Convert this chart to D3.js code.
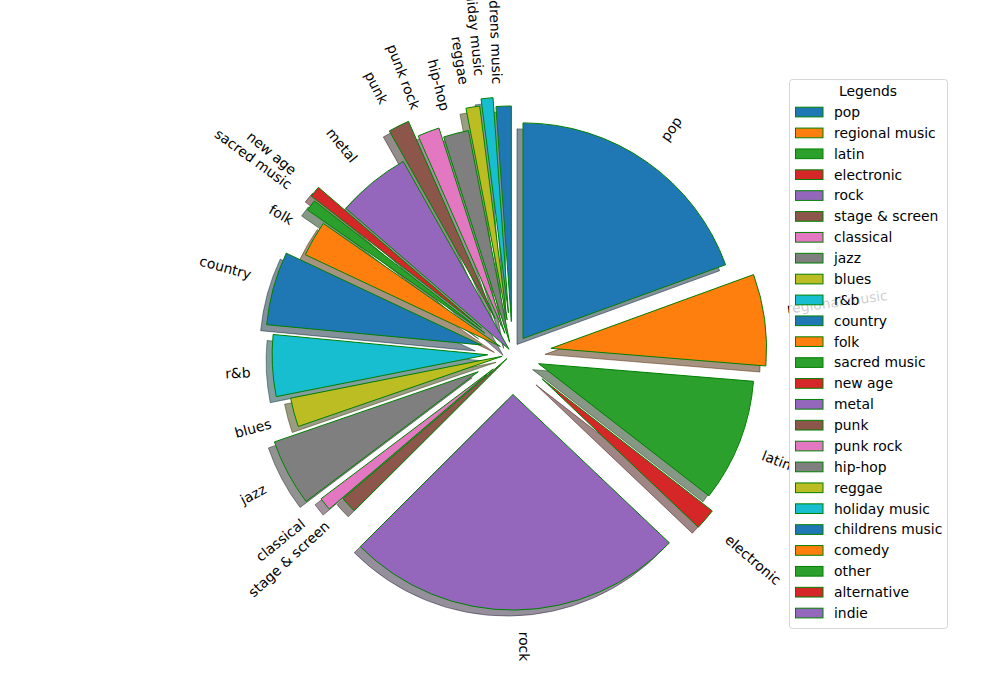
<!DOCTYPE html>
<html lang="en">
<head>
    <meta charset="UTF-8">
    <title>Genres pie</title>
    <script src="https://d3js.org/d3.v7.min.js"></script>
    <style>
        body { margin: 0; background: #fff; }
        text { font-family: "DejaVu Sans", sans-serif; font-size: 13.89px; fill: #000; }
    </style>
</head>
<body>
    <div id="chart"></div>

    <script>
        // Data (slice sizes)
        const genres = ["pop", "regional music", "latin", "electronic", "rock", "stage & screen",
            "classical", "jazz", "blues", "r&b", "country", "folk", "sacred music", "new age",
            "metal", "punk", "punk rock", "hip-hop", "reggae", "holiday music", "childrens music",
            "comedy", "other", "alternative", "indie"];
        const counts = [700, 247, 331, 57, 916, 44, 35, 180, 78, 166, 198, 96, 30, 30,
            198, 57, 59, 68, 37, 32, 41, 0, 0, 0, 0];
        // how far each slice is pulled out, as a fraction of the radius
        const explode = [0.085, 0.18, 0.13, 0.18, 0.19, 0.035, 0.115, 0.18, 0.05, 0.115, 0.15,
            0.065, 0.16, 0.185, 0.025, 0.18, 0.1, 0.054, 0.158, 0.19, 0.148, 0, 0, 0, 0];

        const width = 1000, height = 700;
        const cx = 512.5, cy = 353.5, R = 215.6;
        const colors = d3.schemeCategory10;

        const svg = d3.select("#chart")
            .append("svg")
            .attr("width", width)
            .attr("height", height);

        const rows = genres.map((g, i) => ({genre: g, value: counts[i], explode: explode[i], color: colors[i % 10]}));

        const pie = d3.pie().sort(null).value(d => d.value);
        const arc = d3.arc().innerRadius(0).outerRadius(R);
        const arcs = pie(rows).filter(d => d.data.value > 0);

        const g = svg.append("g").attr("transform", `translate(${cx},${cy})`);

        // offset of the exploded centre
        const shift = d => {
            const m = (d.startAngle + d.endAngle) / 2;
            const e = d.data.explode * R;
            return [e * Math.sin(m), -e * Math.cos(m)];
        };

        // Shadows under everything
        g.selectAll(".shadow")
            .data(arcs)
            .join("path")
            .attr("class", "shadow")
            .attr("transform", d => { const [x, y] = shift(d); return `translate(${x - 6},${y + 6})`; })
            .attr("d", arc)
            .each(function(d) {
                const c = d3.rgb(d.data.color);
                const s = d3.rgb(c.r * 0.3, c.g * 0.3, c.b * 0.3).formatHex();
                d3.select(this).attr("fill", s).attr("fill-opacity", 0.5)
                    .attr("stroke", s).attr("stroke-opacity", 0.5).attr("stroke-width", 1);
            });

        // Wedges
        g.selectAll(".wedge")
            .data(arcs)
            .join("path")
            .attr("class", "wedge")
            .attr("transform", d => { const [x, y] = shift(d); return `translate(${x},${y})`; })
            .attr("d", arc)
            .attr("fill", d => d.data.color)
            .attr("stroke", "green")
            .attr("stroke-width", 1);

        // Rotated labels: the rotated box is aligned to the anchor point
        const boxH = 13.7;
        g.selectAll(".lbl")
            .data(arcs)
            .join("text")
            .attr("class", "lbl")
            .attr("text-anchor", "middle")
            .attr("dy", "0.263em")
            .text(d => d.data.genre)
            .each(function(d) {
                const m = (d.startAngle + d.endAngle) / 2;
                const dist = (d.data.explode + 1.1) * R;
                const x = dist * Math.sin(m), y = -dist * Math.cos(m);
                const theta = 90 - m * 180 / Math.PI;
                const right = Math.sin(m) > 0;
                const up = Math.cos(m) > 0;
                const rot = right ? theta : theta + 180;
                const w = this.getComputedTextLength();
                const r = rot * Math.PI / 180;
                const W = w * Math.abs(Math.cos(r)) + boxH * Math.abs(Math.sin(r));
                const H = w * Math.abs(Math.sin(r)) + boxH * Math.abs(Math.cos(r));
                const px = right ? x + W / 2 : x - W / 2;
                const py = up ? y - H / 2 : y + H / 2;
                d3.select(this).attr("transform", `translate(${px},${py}) rotate(${-rot})`);
            });

        // Legend
        const lx = 789.5, ly = 79.5, lw = 158, lh = 549;
        const legend = svg.append("g");
        legend.append("rect")
            .attr("x", lx).attr("y", ly)
            .attr("width", lw).attr("height", lh)
            .attr("rx", 3)
            .attr("fill", "#fff").attr("fill-opacity", 0.8)
            .attr("stroke", "#cccccc").attr("stroke-opacity", 0.8);

        legend.append("text")
            .attr("x", 868).attr("y", 91)
            .attr("dy", "0.35em")
            .attr("text-anchor", "middle")
            .text("Legends");

        const rowY = d3.scaleLinear().domain([0, genres.length - 1]).range([112, 613]);

        const item = legend.selectAll(".item")
            .data(rows)
            .join("g")
            .attr("class", "item")
            .attr("transform", (d, i) => `translate(0,${rowY(i)})`);

        item.append("rect")
            .attr("x", 795.5).attr("y", -4.8)
            .attr("width", 27.5).attr("height", 9.7)
            .attr("fill", d => d.color)
            .attr("stroke", "green")
            .attr("stroke-width", 1);

        item.append("text")
            .attr("x", 834)
            .attr("dy", "0.35em")
            .text(d => d.genre);
    </script>
</body>
</html>
